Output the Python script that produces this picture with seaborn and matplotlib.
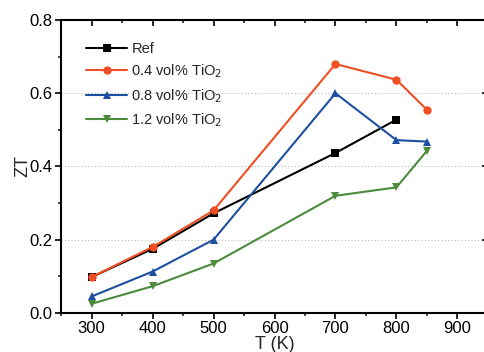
import matplotlib
matplotlib.use("Agg")
import matplotlib.pyplot as plt
import seaborn as sns
import pandas as pd
from matplotlib.ticker import MultipleLocator, FormatStrFormatter

sns.set_theme(style="ticks")
plt.rcParams['font.family'] = ['Liberation Sans', 'DejaVu Sans']

T_ref = [300, 400, 500, 700, 800]
zt_ref = [0.098, 0.175, 0.272, 0.437, 0.528]
T_all = [300, 400, 500, 700, 800, 850]
zt_04 = [0.098, 0.180, 0.280, 0.680, 0.637, 0.555]
zt_08 = [0.045, 0.113, 0.200, 0.600, 0.472, 0.468]
zt_12 = [0.025, 0.073, 0.135, 0.320, 0.343, 0.443]

labels = ["Ref", "0.4 vol% TiO$_2$", "0.8 vol% TiO$_2$", "1.2 vol% TiO$_2$"]
colors = ["#000000", "#f04e23", "#1d4fa0", "#4b8b3b"]
markers = ["s", "o", "^", "v"]

rows = []
for T, z, lab in [(T_ref, zt_ref, labels[0]), (T_all, zt_04, labels[1]),
                  (T_all, zt_08, labels[2]), (T_all, zt_12, labels[3])]:
    for t, v in zip(T, z):
        rows.append({"T": t, "ZT": v, "series": lab})
df = pd.DataFrame(rows)

fig = plt.figure(figsize=(4.85, 3.52), dpi=100)
ax = fig.add_axes([0.126, 0.111, 0.88, 0.832])

for lab, c, m in zip(labels, colors, markers):
    d = df[df.series == lab]
    sns.lineplot(data=d, x="T", y="ZT", ax=ax, color=c, marker=m, markersize=6,
                 markeredgewidth=0, linewidth=1.5, label=lab, sort=False)

ax.xaxis.set_major_locator(MultipleLocator(100))
ax.xaxis.set_minor_locator(MultipleLocator(50))
ax.yaxis.set_major_locator(MultipleLocator(0.2))
ax.yaxis.set_minor_locator(MultipleLocator(0.1))
ax.yaxis.set_major_formatter(FormatStrFormatter("%.1f"))
ax.xaxis.set_major_formatter(FormatStrFormatter("%d"))
ax.set_xlim(250, 950)
ax.set_ylim(0, 0.8)
for y in [0.2, 0.4, 0.6]:
    ax.axhline(y, color="#bbbbbb", linestyle=(0, (1, 2)), linewidth=0.8, zorder=0)

ax.tick_params(axis="both", which="major", direction="out", length=4, width=1.2,
               labelsize=12, colors="black", pad=2)
ax.tick_params(axis="both", which="minor", direction="out", length=2.5, width=1.2)
ax.tick_params(axis="x", which="both", top=True)
ax.tick_params(axis="y", which="both", right=True)
ax.tick_params(axis="x", which="major", top=True, direction="out")
for tl in ax.xaxis.get_ticklines(minor=False)[1::2] + ax.xaxis.get_ticklines(minor=True)[1::2]:
    tl.set_marker(3)  # inward tick at top
for tl in ax.yaxis.get_ticklines(minor=False)[1::2] + ax.yaxis.get_ticklines(minor=True)[1::2]:
    tl.set_marker(0)  # inward tick at right
for s in ax.spines.values():
    s.set_linewidth(1.5)
    s.set_color("black")

ax.set_xlabel("T (K)", fontsize=13, labelpad=0)
ax.set_ylabel("ZT", fontsize=13, labelpad=-1)

leg = ax.legend(loc="upper left", bbox_to_anchor=(0.035, 0.96), frameon=False,
                fontsize=10.5, handlelength=2.8, handletextpad=0.3, labelspacing=0.45,
                borderaxespad=0.3)

fig.savefig("out.png", dpi=100)
